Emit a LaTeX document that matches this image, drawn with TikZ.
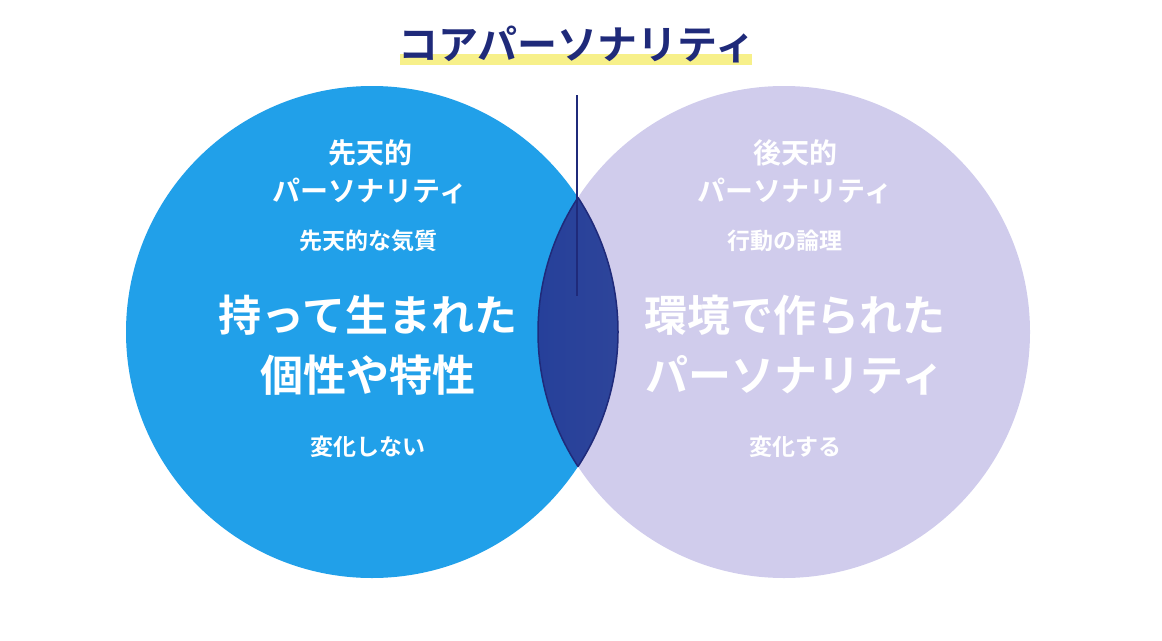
\documentclass[tikz,border=0pt]{standalone}
\usepackage{fontspec}
\newfontfamily\jpfont{Noto Sans CJK JP}[BoldFont={* Bold}]
\usetikzlibrary{positioning}
\definecolor{skyblue}{HTML}{21A0E9}
\definecolor{lavender}{HTML}{D0CCEC}
\definecolor{navy}{HTML}{1F2A7A}
\definecolor{lensblue}{HTML}{26409A}
\definecolor{marker}{HTML}{F7F08A}
\tikzset{
  circ/.style={circle,minimum size=492pt,inner sep=0pt},
  txt/.style={text=white,font=\jpfont\bfseries,align=center},
  small/.style={txt,font=\jpfont\bfseries\fontsize{23}{26}\selectfont},
  mid/.style={txt,font=\jpfont\bfseries\fontsize{28}{38}\selectfont},
  big/.style={txt,font=\jpfont\bfseries\fontsize{43}{60}\selectfont}
}
\begin{document}
\begin{tikzpicture}[x=1pt,y=-1pt]
  \useasboundingbox (0,0) rectangle (1162,640);
  % circles
  \node[circ,fill=skyblue] (innate) at (372,332) {};
  \node[circ,fill=lavender] (acquired) at (784,332) {};
  % overlap
  \begin{scope}
    \clip (innate.center) circle (246);
    \shade[left color=lensblue,right color=navy!70!lavender] (acquired.center) circle (246);
  \end{scope}
  \begin{scope}
    \clip (innate.center) circle (246);
    \draw[navy,line width=1.5pt] (acquired.center) circle (246);
  \end{scope}
  \begin{scope}
    \clip (acquired.center) circle (246);
    \draw[navy,line width=1.5pt] (innate.center) circle (246);
  \end{scope}
  % title
  \fill[marker] (400,54) rectangle (752,65);
  \node[font=\jpfont\bfseries\fontsize{40}{44}\selectfont,text=navy] (core) at (577,44) {コアパーソナリティ};
  \coordinate (lineend) at (577,296);
  \draw[navy,line width=1.5pt] (577,95) -- (lineend);
  % left texts
  \node[mid] (innatehead) at (370,172) {先天的\\パーソナリティ};
  \node[small] (innatesub) at (368,241) {先天的な気質};
  \node[big] (innatemain) at (368,345) {持って生まれた\\個性や特性};
  \node[small] (innatefoot) at (368,447) {変化しない};
  % right texts
  \node[mid] (acqhead) at (795,172) {後天的\\パーソナリティ};
  \node[small] (acqsub) at (785,241) {行動の論理};
  \node[big] (acqmain) at (795,345) {環境で作られた\\パーソナリティ};
  \node[small] (acqfoot) at (795,447) {変化する};
\end{tikzpicture}
\end{document}
